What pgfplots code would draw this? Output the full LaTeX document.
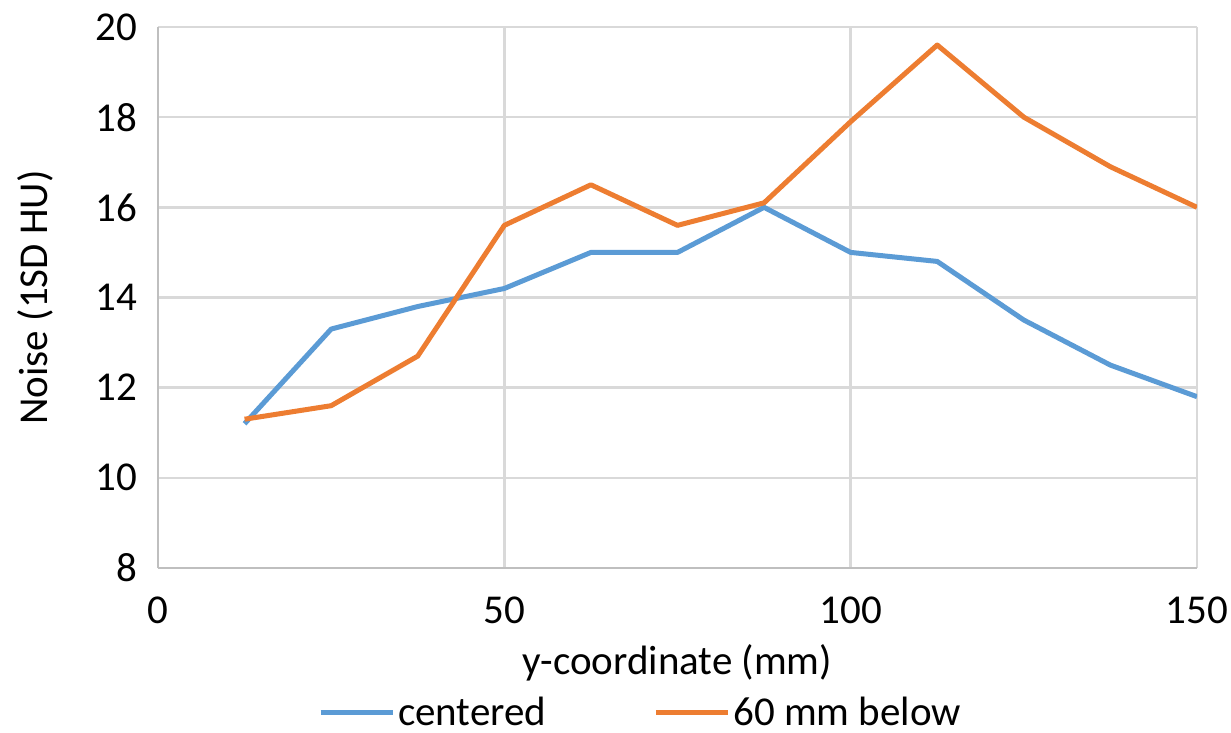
\documentclass[border=0pt]{standalone}
\usepackage{fontspec}
\setmainfont{Carlito}
\usepackage{pgfplots}
\pgfplotsset{compat=1.18}
\definecolor{xlblue}{HTML}{5B9BD5}
\definecolor{xlorange}{HTML}{ED7D31}
\definecolor{xlaxis}{HTML}{BFBFBF}
\definecolor{xlgrid}{HTML}{D9D9D9}
\begin{document}
\begin{tikzpicture}
\begin{axis}[
    name=ax,
    scale only axis,
    width=519.5pt, height=270.5pt,
    xmin=0, xmax=150, ymin=8, ymax=20,
    xtick={0,50,100,150},
    ytick={8,10,...,20},
    axis x line*=bottom,
    axis y line*=left,
    axis line style={xlaxis, line width=1.2pt, -},
    major tick length=0pt,
    grid=major,
    major grid style={xlgrid, line width=1.2pt},
    font=\fontsize{20.5}{24}\selectfont,
    /pgf/number format/assume math mode=true,
    xticklabel style={yshift=-11pt},
    yticklabel style={xshift=-7pt},
    xlabel={y-coordinate (mm)},
    ylabel={Noise (1SD HU)},
    xlabel style={at={(axis description cs:0.5,0)}, anchor=center, yshift=-47.5pt},
    ylabel style={at={(axis description cs:0,0.5)}, anchor=center, yshift=61.5pt},
    legend style={at={(0.4649,-0.2680)}, anchor=center, draw=none, fill=none,
        legend columns=2, /tikz/every even column/.append style={column sep=52pt},
        font=\fontsize{20.5}{24}\selectfont,
        inner sep=0pt, nodes={inner sep=1.5pt}},
    legend image code/.code={\draw[#1, line width=2.5pt] (0pt,0pt) -- (36pt,0pt);},
]
\addplot[xlblue, line width=2.5pt, line join=round] coordinates {
    (12.5,11.2) (25,13.3) (37.5,13.8) (50,14.2) (62.5,15.0) (75,15.0)
    (87.5,16.0) (100,15.0) (112.5,14.8) (125,13.5) (137.5,12.5) (150,11.8)
};
\addplot[xlorange, line width=2.5pt, line join=round] coordinates {
    (12.5,11.3) (25,11.6) (37.5,12.7) (50,15.6) (62.5,16.5) (75,15.6)
    (87.5,16.1) (100,17.9) (112.5,19.6) (125,18.0) (137.5,16.9) (150,16.0)
};
\legend{centered, 60 mm below}
\end{axis}
\pgfresetboundingbox
\path (ax.south west) ++(-79pt,-82.5pt) rectangle ++(615.5pt,366.5pt);
\end{tikzpicture}
\end{document}
